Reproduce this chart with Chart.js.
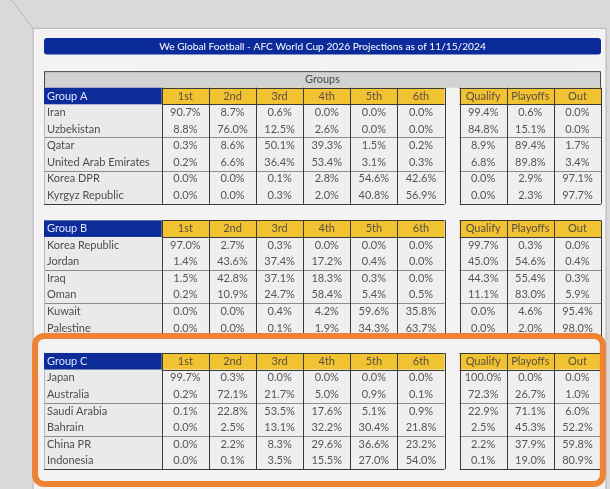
<!DOCTYPE html>
<html>
<head>
<meta charset="utf-8">
<script src="https://cdn.jsdelivr.net/npm/chart.js@4.4.1/dist/chart.umd.min.js"></script>
<style>
  html, body { margin: 0; padding: 0; background: #d9d9d9; }
  canvas { display: block; }
</style>
</head>
<body>
<canvas id="myChart" width="610" height="489"></canvas>
<script>
// table texts
const title = 'We Global Football - AFC World Cup 2026 Projections as of 11/15/2024';
const bandLabel = 'Groups';
const positions = ['1st', '2nd', '3rd', '4th', '5th', '6th'];
const outcomes = ['Qualify', 'Playoffs', 'Out'];
const groupNames = ['Group A', 'Group B', 'Group C'];

// group A
const groupATeams = ['Iran', 'Uzbekistan', 'Qatar', 'United Arab Emirates', 'Korea DPR', 'Kyrgyz Republic'];
const groupAPlaces = [
  [90.7, 8.7, 0.6, 0.0, 0.0, 0.0],
  [8.8, 76.0, 12.5, 2.6, 0.0, 0.0],
  [0.3, 8.6, 50.1, 39.3, 1.5, 0.2],
  [0.2, 6.6, 36.4, 53.4, 3.1, 0.3],
  [0.0, 0.0, 0.1, 2.8, 54.6, 42.6],
  [0.0, 0.0, 0.3, 2.0, 40.8, 56.9]
];
const groupAOutcomes = [
  [99.4, 0.6, 0.0], [84.8, 15.1, 0.0], [8.9, 89.4, 1.7],
  [6.8, 89.8, 3.4], [0.0, 2.9, 97.1], [0.0, 2.3, 97.7]
];

// group B
const groupBTeams = ['Korea Republic', 'Jordan', 'Iraq', 'Oman', 'Kuwait', 'Palestine'];
const groupBPlaces = [
  [97.0, 2.7, 0.3, 0.0, 0.0, 0.0],
  [1.4, 43.6, 37.4, 17.2, 0.4, 0.0],
  [1.5, 42.8, 37.1, 18.3, 0.3, 0.0],
  [0.2, 10.9, 24.7, 58.4, 5.4, 0.5],
  [0.0, 0.0, 0.4, 4.2, 59.6, 35.8],
  [0.0, 0.0, 0.1, 1.9, 34.3, 63.7]
];
const groupBOutcomes = [
  [99.7, 0.3, 0.0], [45.0, 54.6, 0.4], [44.3, 55.4, 0.3],
  [11.1, 83.0, 5.9], [0.0, 4.6, 95.4], [0.0, 2.0, 98.0]
];

// group C
const groupCTeams = ['Japan', 'Australia', 'Saudi Arabia', 'Bahrain', 'China PR', 'Indonesia'];
const groupCPlaces = [
  [99.7, 0.3, 0.0, 0.0, 0.0, 0.0],
  [0.2, 72.1, 21.7, 5.0, 0.9, 0.1],
  [0.1, 22.8, 53.5, 17.6, 5.1, 0.9],
  [0.0, 2.5, 13.1, 32.2, 30.4, 21.8],
  [0.0, 2.2, 8.3, 29.6, 36.6, 23.2],
  [0.0, 0.1, 3.5, 15.5, 27.0, 54.0]
];
const groupCOutcomes = [
  [100.0, 0.0, 0.0], [72.3, 26.7, 1.0], [22.9, 71.1, 6.0],
  [2.5, 45.3, 52.2], [2.2, 37.9, 59.8], [0.1, 19.0, 80.9]
];

// layout in scale units (x: one column, y: one row)
const LABEL_X = -2.5;       // team name column starts here, place columns 0..6
const OUT_X = 6.32;         // outcome columns start after a small gap
const GROUP_TOP = [3, 11, 19];
const FONT = '11px Lato, "Liberation Sans", sans-serif';
const TITLE_FONT = '10.2px Lato, "Liberation Sans", sans-serif';

const teams = [groupATeams, groupBTeams, groupCTeams];
const places = [groupAPlaces, groupBPlaces, groupCPlaces];
const results = [groupAOutcomes, groupBOutcomes, groupCOutcomes];

// build one scatter dataset of cell centres per group, plus one for team names
var datasets = [];
teams.forEach(function(list, g) {
  var cells = [];
  places[g].forEach(function(row, r) {
    row.forEach(function(v, c) {
      cells.push({ x: c + 0.5, y: GROUP_TOP[g] + r + 1.5, v: v.toFixed(1) + '%' });
    });
    results[g][r].forEach(function(v, c) {
      cells.push({ x: OUT_X + c + 0.5, y: GROUP_TOP[g] + r + 1.5, v: v.toFixed(1) + '%' });
    });
  });
  datasets.push({ label: groupNames[g], kind: 'cell', data: cells, pointRadius: 0 });
  datasets.push({
    label: groupNames[g] + ' teams', kind: 'team', pointRadius: 0,
    data: list.map(function(t, r) { return { x: LABEL_X, y: GROUP_TOP[g] + r + 1.5, v: t }; })
  });
});

const tablePlugin = {
  id: 'table',
  beforeDatasetsDraw: function(chart) {
    const ctx = chart.ctx;
    const X = function(v) { return chart.scales.x.getPixelForValue(v); };
    const Y = function(v) { return chart.scales.y.getPixelForValue(v); };
    const W = chart.width, H = chart.height;
    ctx.save();
    // screen background + panel
    ctx.fillStyle = '#d9d9d9';
    ctx.fillRect(0, 0, W, H);
    var px = X(-2.73), py = Y(-0.58);
    ctx.fillStyle = '#f3f3f3';
    ctx.fillRect(px, py, W - 4 - px, H - py);
    ctx.strokeStyle = '#b5b5b5';
    ctx.lineWidth = 1;
    ctx.beginPath();
    ctx.moveTo(px - 22, 0);
    ctx.lineTo(px, py);
    ctx.lineTo(px, H);
    ctx.moveTo(px, py);
    ctx.lineTo(W - 4, py);
    ctx.lineTo(W - 4, H);
    ctx.stroke();

    // title bar
    ctx.fillStyle = '#0c2b9b';
    ctx.beginPath();
    ctx.roundRect(X(LABEL_X), Y(0), X(OUT_X + 3) - X(LABEL_X), Y(1) - Y(0), 3);
    ctx.fill();
    ctx.fillStyle = '#ffffff';
    ctx.font = TITLE_FONT;
    ctx.textAlign = 'center';
    ctx.textBaseline = 'middle';
    ctx.fillText(title, (X(LABEL_X) + X(OUT_X + 3)) / 2, Y(0.5));
    ctx.font = FONT;

    // "Groups" band
    ctx.fillStyle = '#d2d2d2';
    ctx.fillRect(X(LABEL_X), Y(2), X(OUT_X + 3) - X(LABEL_X), Y(3) - Y(2));
    ctx.strokeStyle = '#4a4a4a';
    ctx.beginPath();
    ctx.moveTo(X(LABEL_X) + 0.5, Y(3));
    ctx.lineTo(X(LABEL_X) + 0.5, Y(2) + 0.5);
    ctx.lineTo(X(OUT_X + 3) - 0.5, Y(2) + 0.5);
    ctx.lineTo(X(OUT_X + 3) - 0.5, Y(3));
    ctx.stroke();
    ctx.fillStyle = '#4a4a4a';
    ctx.fillText(bandLabel, (X(LABEL_X) + X(OUT_X + 3)) / 2, Y(2.5));

    GROUP_TOP.forEach(function(t, g) {
      // body fills
      ctx.fillStyle = '#eaeaea';
      ctx.fillRect(X(LABEL_X), Y(t + 1), X(0) - X(LABEL_X), Y(t + 7) - Y(t + 1));
      ctx.fillStyle = '#efefef';
      ctx.fillRect(X(0), Y(t + 1), X(6) - X(0), Y(t + 7) - Y(t + 1));
      ctx.fillRect(X(OUT_X), Y(t + 1), X(OUT_X + 3) - X(OUT_X), Y(t + 7) - Y(t + 1));

      // header row
      ctx.fillStyle = '#0d2c9a';
      ctx.fillRect(X(LABEL_X), Y(t), X(0) - X(LABEL_X), Y(t + 1) - Y(t));
      ctx.fillStyle = '#f1c232';
      ctx.fillRect(X(0), Y(t), X(6) - X(0), Y(t + 1) - Y(t));
      ctx.fillRect(X(OUT_X), Y(t), X(OUT_X + 3) - X(OUT_X), Y(t + 1) - Y(t));

      // pair separators
      ctx.strokeStyle = '#8c8c8c';
      ctx.beginPath();
      [3, 5].forEach(function(k) {
        var y = Math.round(Y(t + k)) + 0.5;
        ctx.moveTo(X(LABEL_X), y); ctx.lineTo(X(6), y);
        ctx.moveTo(X(OUT_X), y); ctx.lineTo(X(OUT_X + 3), y);
      });
      ctx.stroke();

      // label column left edge
      ctx.strokeStyle = '#b8b8b8';
      ctx.beginPath();
      ctx.moveTo(Math.round(X(LABEL_X)) + 0.5, Y(t + 1));
      ctx.lineTo(Math.round(X(LABEL_X)) + 0.5, Y(t + 7));
      ctx.stroke();

      // dark grid
      ctx.strokeStyle = '#3a3a3a';
      ctx.beginPath();
      for (var c = 0; c <= 6; c++) {
        var x = Math.round(X(c)) + 0.5;
        ctx.moveTo(x, Y(t)); ctx.lineTo(x, Y(t + 7));
      }
      for (var c2 = 0; c2 <= 3; c2++) {
        var x2 = Math.round(X(OUT_X + c2)) + 0.5;
        ctx.moveTo(x2, Y(t)); ctx.lineTo(x2, Y(t + 7));
      }
      [t, t + 1, t + 7].forEach(function(k) {
        var y = Math.round(Y(k)) + 0.5;
        ctx.moveTo(X(0), y); ctx.lineTo(X(6), y);
        ctx.moveTo(X(OUT_X), y); ctx.lineTo(X(OUT_X + 3), y);
      });
      var yb = Math.round(Y(t + 7)) + 0.5;
      ctx.moveTo(X(LABEL_X), yb); ctx.lineTo(X(0), yb);
      ctx.stroke();

      // header texts
      ctx.fillStyle = '#dfe5ff';
      ctx.textAlign = 'left';
      ctx.fillText(groupNames[g], X(LABEL_X) + 3, Y(t + 0.5));
      ctx.fillStyle = '#5a5040';
      ctx.textAlign = 'center';
      positions.forEach(function(p, i) { ctx.fillText(p, X(i + 0.5), Y(t + 0.5)); });
      outcomes.forEach(function(o, i) { ctx.fillText(o, X(OUT_X + i + 0.5), Y(t + 0.5)); });
    });
    ctx.restore();
  },
  afterDatasetsDraw: function(chart) {
    const ctx = chart.ctx;
    ctx.save();
    ctx.font = FONT;
    ctx.textBaseline = 'middle';
    chart.data.datasets.forEach(function(ds, i) {
      var meta = chart.getDatasetMeta(i);
      meta.data.forEach(function(pt, j) {
        if (ds.kind === 'team') {
          ctx.fillStyle = '#4d4d4d';
          ctx.textAlign = 'left';
          ctx.fillText(ds.data[j].v, pt.x + 3, pt.y);
        } else {
          ctx.fillStyle = '#555555';
          ctx.textAlign = 'center';
          ctx.fillText(ds.data[j].v, pt.x, pt.y);
        }
      });
    });

    // orange highlight round group C
    const X = function(v) { return chart.scales.x.getPixelForValue(v); };
    const Y = function(v) { return chart.scales.y.getPixelForValue(v); };
    ctx.strokeStyle = '#ee8433';
    ctx.lineWidth = 6;
    ctx.beginPath();
    ctx.roundRect(X(-2.69), Y(GROUP_TOP[2] - 1.02), X(OUT_X + 3.04) - X(-2.69), Y(26.9) - Y(GROUP_TOP[2] - 1.02), 9);
    ctx.stroke();
    ctx.restore();
  }
};

var ctx = document.getElementById('myChart').getContext('2d');
var myChart = new Chart(ctx, {
  type: 'scatter',
  data: { datasets: datasets },
  options: {
    responsive: false,
    animation: false,
    events: [],
    layout: { padding: { left: 44, right: 9, top: 38, bottom: 20 } },
    scales: {
      x: { type: 'linear', min: LABEL_X, max: OUT_X + 3, display: false },
      y: { type: 'linear', min: 0, max: 26, reverse: true, display: false }
    },
    plugins: {
      legend: { display: false },
      tooltip: { enabled: false }
    }
  },
  plugins: [tablePlugin]
});
</script>
</body>
</html>
